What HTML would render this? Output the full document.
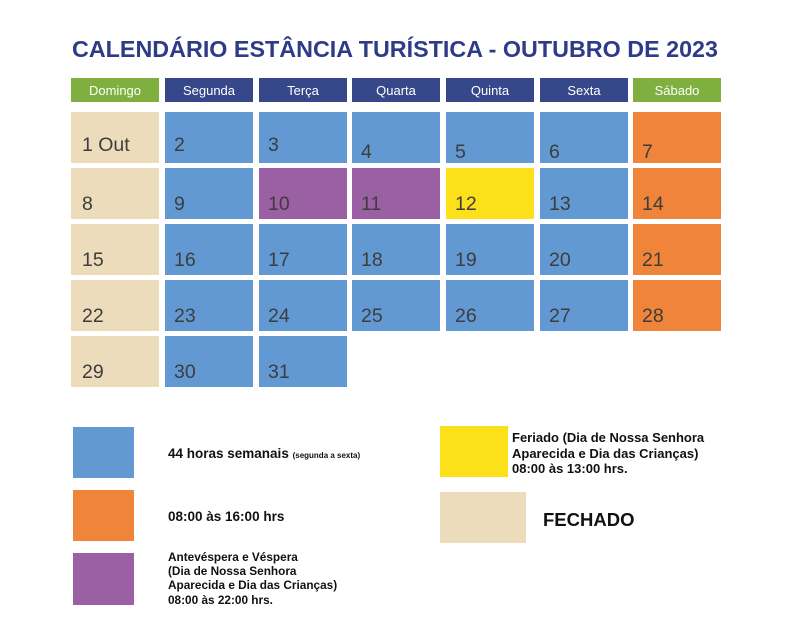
<!DOCTYPE html>
<html><head><meta charset="utf-8"><style>body{margin:0;background:#fff}svg{display:block}</style></head><body>
<svg width="786" height="637" xmlns="http://www.w3.org/2000/svg" font-family="Liberation Sans, sans-serif">
<text x="72" y="57" font-size="23" font-weight="bold" fill="#2e3b87" textLength="646" lengthAdjust="spacingAndGlyphs">CALENDÁRIO ESTÂNCIA TURÍSTICA - OUTUBRO DE 2023</text>
<g font-size="13" fill="#fff" text-anchor="middle">
<rect x="71" y="78" width="88" height="24" fill="#7fb03f"/><text x="115" y="95">Domingo</text>
<rect x="165" y="78" width="88" height="24" fill="#36478a"/><text x="209" y="95">Segunda</text>
<rect x="259" y="78" width="88" height="24" fill="#36478a"/><text x="303" y="95">Terça</text>
<rect x="352" y="78" width="88" height="24" fill="#36478a"/><text x="396" y="95">Quarta</text>
<rect x="446" y="78" width="88" height="24" fill="#36478a"/><text x="490" y="95">Quinta</text>
<rect x="540" y="78" width="88" height="24" fill="#36478a"/><text x="584" y="95">Sexta</text>
<rect x="633" y="78" width="88" height="24" fill="#7fb03f"/><text x="677" y="95">Sábado</text>
</g>
<g id="cells" font-size="19.5" fill="#444">
</g>
<script>
const xs=[71,165,259,352,446,540,633],ys=[112,168,224,280,336];
const B='#6399d2',O='#f0843a',P='#9b5fa3',Y='#fbe01a',T='#ecdcbb';
const g=document.getElementById('cells');let d=1;
for(let r=0;r<5;r++)for(let c=0;c<7;c++){if(d>31)break;
let col=c==0?T:c==6?O:B;if(d==10||d==11)col=P;if(d==12)col=Y;
const x=xs[c],y=ys[r];
const rc=document.createElementNS('http://www.w3.org/2000/svg','rect');
rc.setAttribute('x',x);rc.setAttribute('y',y);rc.setAttribute('width',88);rc.setAttribute('height',51);rc.setAttribute('fill',col);g.appendChild(rc);
const t=document.createElementNS('http://www.w3.org/2000/svg','text');
t.setAttribute('x',x+(c==0?11:9));t.setAttribute('y',y+(r==0&&c<3?39:y==112?46:42));t.setAttribute('fill','#3d3d3d');
t.textContent=d==1?'1 Out':d;g.appendChild(t);d++;}
</script>
<rect x="73" y="427" width="61" height="51" fill="#6399d2"/>
<rect x="73" y="490" width="61" height="51" fill="#f0843a"/>
<rect x="73" y="553" width="61" height="52" fill="#9b5fa3"/>
<rect x="440" y="426" width="68" height="51" fill="#fbe01a"/>
<rect x="440" y="492" width="86" height="51" fill="#ecdcbb"/>
<g font-weight="bold" fill="#111">
<text x="168" y="458" font-size="13.5">44 horas semanais <tspan font-size="8">(segunda a sexta)</tspan></text>
<text x="168" y="521" font-size="13.5">08:00 às 16:00 hrs</text>
<text font-size="11.8"><tspan x="168" y="561">Antevéspera e Véspera</tspan><tspan x="168" y="575">(Dia de Nossa Senhora</tspan><tspan x="168" y="589">Aparecida e Dia das Crianças)</tspan><tspan x="168" y="604">08:00 às 22:00 hrs.</tspan></text>
<text font-size="13"><tspan x="512" y="442">Feriado (Dia de Nossa Senhora</tspan><tspan x="512" y="458">Aparecida e Dia das Crianças)</tspan><tspan x="512" y="473">08:00 às 13:00 hrs.</tspan></text>
<text x="543" y="526" font-size="18.5">FECHADO</text>
</g>
</svg>
</body></html>
